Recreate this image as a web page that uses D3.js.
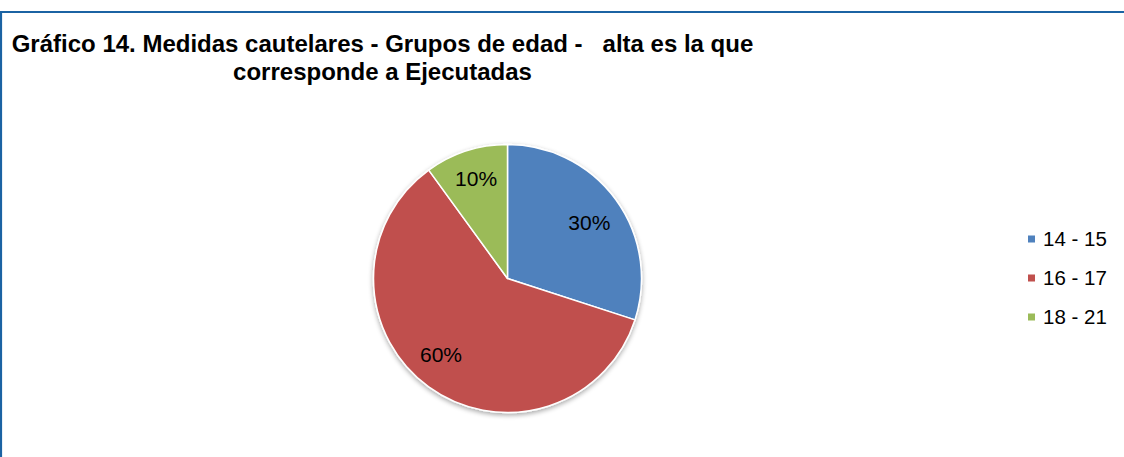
<!DOCTYPE html>
<html>
<head>
<meta charset="utf-8">
<script src="https://cdn.jsdelivr.net/npm/d3@7"></script>
<style>
  body { margin: 0; background: #fff; }
  svg { display: block; font-family: "Liberation Sans", Arial, sans-serif; }
</style>
</head>
<body>
<svg id="chart" width="1124" height="457"></svg>
<script>
/* ==== Data ==== */
var categories = ["14 - 15", "16 - 17", "18 - 21"];
var values = [30, 60, 10];
var colors = ["#4f81bd", "#c0504d", "#9bbb59"];
var titleLines = ["Gráfico 14. Medidas cautelares - Grupos de edad -   alta es la que",
                  "corresponde a Ejecutadas"];

/* ==== Layout ==== */
var W = 1124, H = 457;
var CX = 507.5, CY = 278.5, R = 134;
// Excel's best fit nudges labels off the slice middle (radius px, angle rad)
var labelR = [99, 101, 105];
var labelShift = [0.03, 0.09, 0.01];

var svg = d3.select("#chart");

// frame
svg.append("rect").attr("x", 0).attr("y", 0).attr("width", W).attr("height", H).attr("fill", "#fff");
svg.append("line").attr("x1", 0).attr("x2", W).attr("y1", 12).attr("y2", 12)
   .attr("stroke", "#1b63a3").attr("stroke-width", 2.2);
svg.append("line").attr("x1", 1).attr("x2", 1).attr("y1", 11).attr("y2", H)
   .attr("stroke", "#1b63a3").attr("stroke-width", 2.2);

// title
var title = svg.append("text").attr("font-weight", "bold").attr("font-size", 24).attr("fill", "#000")
               .attr("text-anchor", "middle");
title.selectAll("tspan").data(titleLines).enter().append("tspan")
     .attr("x", 382.5).attr("y", (d, i) => 52 + i * 27.5)
     .style("white-space", "pre")
     .text(d => d);

/* ==== Pie ==== */
var defs = svg.append("defs");
var f = defs.append("filter").attr("id", "shadow").attr("x", "-20%").attr("y", "-20%")
            .attr("width", "140%").attr("height", "140%");
f.append("feGaussianBlur").attr("in", "SourceAlpha").attr("stdDeviation", 2.5).attr("result", "b");
f.append("feOffset").attr("in", "b").attr("dx", 0).attr("dy", 1.5).attr("result", "o");
f.append("feComponentTransfer").attr("in", "o").attr("result", "s")
 .append("feFuncA").attr("type", "linear").attr("slope", 0.35);
var m = f.append("feMerge");
m.append("feMergeNode").attr("in", "s");
m.append("feMergeNode").attr("in", "SourceGraphic");

var pie = d3.pie().sort(null).value(d => d)(values);
var arc = d3.arc().innerRadius(0).outerRadius(R);

var g = svg.append("g").attr("transform", "translate(" + CX + "," + CY + ")");
g.append("g").attr("filter", "url(#shadow)")
 .selectAll("path").data(pie).enter().append("path")
 .attr("d", arc)
 .attr("fill", (d, i) => colors[i])
 .attr("stroke", "#fff").attr("stroke-width", 1.5).attr("stroke-linejoin", "round");

g.selectAll(".lbl").data(pie).enter().append("text")
 .attr("class", "lbl")
 .attr("transform", (d, i) => {
   var a = (d.startAngle + d.endAngle) / 2 + labelShift[i];
   return "translate(" + (Math.sin(a) * labelR[i]) + "," + (-Math.cos(a) * labelR[i]) + ")";
 })
 .attr("text-anchor", "middle").attr("dy", "0.35em")
 .attr("font-size", 21).attr("fill", "#000")
 .text(d => d.value + "%");

/* ==== Legend ==== */
var leg = svg.append("g").selectAll("g").data(categories).enter().append("g")
             .attr("transform", (d, i) => "translate(1028," + (239 + i * 39) + ")");
leg.append("rect").attr("x", 0).attr("y", -3.5).attr("width", 7).attr("height", 7)
   .attr("fill", (d, i) => colors[i]);
leg.append("text").attr("x", 15).attr("dy", "0.35em").attr("font-size", 20.5).attr("fill", "#000")
   .text(d => d);
</script>
</body>
</html>
